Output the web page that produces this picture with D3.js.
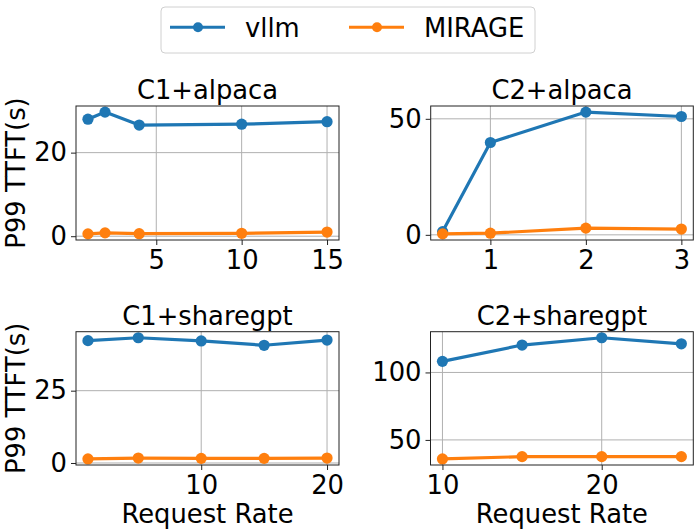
<!DOCTYPE html>
<html>
<head>
<meta charset="utf-8">
<script src="https://cdn.jsdelivr.net/npm/d3@7"></script>
<style>
  body { margin: 0; background: #fff; }
  svg { font-family: "DejaVu Sans", sans-serif; }
</style>
</head>
<body>
<svg id="chart" width="700" height="531"></svg>
<script>
// ---------- data ----------
const seriesNames = ["vllm", "MIRAGE"];
const panelTitles = ["C1+alpaca", "C2+alpaca", "C1+sharegpt", "C2+sharegpt"];

const xC1alpaca = [1, 2, 4, 10, 15];
const vllmC1alpaca = [28.0, 29.7, 26.6, 26.8, 27.4];
const mirageC1alpaca = [0.55, 0.8, 0.6, 0.7, 1.0];

const xC2alpaca = [0.5, 1, 2, 3];
const vllmC2alpaca = [1.4, 39.8, 52.9, 51.0];
const mirageC2alpaca = [0.4, 0.7, 2.9, 2.5];

const xC1sharegpt = [1, 5, 10, 15, 20];
const vllmC1sharegpt = [42.3, 43.3, 42.2, 40.7, 42.5];
const mirageC1sharegpt = [1.4, 1.7, 1.6, 1.6, 1.7];

const xC2sharegpt = [10, 15, 20, 25];
const vllmC2sharegpt = [108.2, 120.3, 125.7, 121.2];
const mirageC2sharegpt = [35.9, 37.6, 37.6, 37.6];

const xTicksC1alpaca = [5, 10, 15];
const yTicksC1alpaca = [0, 20];
const xTicksC2alpaca = [1, 2, 3];
const yTicksC2alpaca = [0, 50];
const xTicksC1sharegpt = [10, 20];
const yTicksC1sharegpt = [0, 25];
const xTicksC2sharegpt = [10, 20];
const yTicksC2sharegpt = [50, 100];

const yLabel = "P99 TTFT(s)";
const xLabel = "Request Rate";

// ---------- style / layout ----------
const colors = ["#1f77b4", "#ff7f0e"];
const FS = 25.8;
const panels = [
  { title: panelTitles[0], x: xC1alpaca, ys: [vllmC1alpaca, mirageC1alpaca], xt: xTicksC1alpaca, yt: yTicksC1alpaca,
    box: { l: 76, r: 339, t: 106, b: 240 }, ylab: true, xlab: false },
  { title: panelTitles[1], x: xC2alpaca, ys: [vllmC2alpaca, mirageC2alpaca], xt: xTicksC2alpaca, yt: yTicksC2alpaca,
    box: { l: 430.7, r: 693.3, t: 106, b: 240 }, ylab: false, xlab: false },
  { title: panelTitles[2], x: xC1sharegpt, ys: [vllmC1sharegpt, mirageC1sharegpt], xt: xTicksC1sharegpt, yt: yTicksC1sharegpt,
    box: { l: 76, r: 339, t: 331.7, b: 465 }, ylab: true, xlab: true },
  { title: panelTitles[3], x: xC2sharegpt, ys: [vllmC2sharegpt, mirageC2sharegpt], xt: xTicksC2sharegpt, yt: yTicksC2sharegpt,
    box: { l: 430.5, r: 693.3, t: 331.7, b: 465 }, ylab: false, xlab: true }
];

const svg = d3.select("#chart");

function padded(ext) {
  const m = (ext[1] - ext[0]) * 0.05;
  return [ext[0] - m, ext[1] + m];
}

panels.forEach(p => {
  const B = p.box;
  const allY = p.ys.flat();
  const xs = d3.scaleLinear().domain(padded(d3.extent(p.x))).range([B.l, B.r]);
  const ys = d3.scaleLinear().domain(padded(d3.extent(allY))).range([B.b, B.t]);
  const g = svg.append("g");

  // grid
  g.selectAll(".gx").data(p.xt).enter().append("line")
    .attr("x1", d => xs(d)).attr("x2", d => xs(d)).attr("y1", B.t).attr("y2", B.b)
    .attr("stroke", "#b0b0b0").attr("stroke-width", 1);
  g.selectAll(".gy").data(p.yt).enter().append("line")
    .attr("y1", d => ys(d)).attr("y2", d => ys(d)).attr("x1", B.l).attr("x2", B.r)
    .attr("stroke", "#b0b0b0").attr("stroke-width", 1);

  // axes
  const xAxis = d3.axisBottom(xs).tickValues(p.xt).tickSize(5).tickPadding(5).tickFormat(d3.format("d"));
  const yAxis = d3.axisLeft(ys).tickValues(p.yt).tickSize(5).tickPadding(4).tickFormat(d3.format("d"));
  const gx = g.append("g").attr("transform", `translate(0,${B.b})`).call(xAxis);
  const gy = g.append("g").attr("transform", `translate(${B.l},0)`).call(yAxis);
  [gx, gy].forEach(a => {
    a.select(".domain").remove();
    a.selectAll("line").attr("stroke", "#222").attr("stroke-width", 1);
    a.selectAll("text").attr("font-size", FS).attr("fill", "#000").attr("font-family", "DejaVu Sans");
  });
  gx.selectAll("text").attr("dy", null).attr("y", 28.5).attr("dominant-baseline", "auto");

  // lines & markers
  p.ys.forEach((vals, si) => {
    const pts = p.x.map((xv, i) => [xv, vals[i]]);
    g.append("path").datum(pts)
      .attr("d", d3.line().x(d => xs(d[0])).y(d => ys(d[1])))
      .attr("fill", "none").attr("stroke", colors[si]).attr("stroke-width", 3.2)
      .attr("stroke-linejoin", "round").attr("stroke-linecap", "round");
    g.selectAll(null).data(pts).enter().append("circle")
      .attr("cx", d => xs(d[0])).attr("cy", d => ys(d[1])).attr("r", 5.6)
      .attr("fill", colors[si]);
  });

  // frame
  g.append("rect").attr("x", B.l).attr("y", B.t).attr("width", B.r - B.l).attr("height", B.b - B.t)
    .attr("fill", "none").attr("stroke", "#222").attr("stroke-width", 1);

  // title
  g.append("text").attr("x", (B.l + B.r) / 2).attr("y", B.t - 7)
    .attr("text-anchor", "middle").attr("font-size", FS).text(p.title);

  if (p.ylab) {
    g.append("text")
      .attr("transform", `translate(24.5,${(B.t + B.b) / 2}) rotate(-90)`)
      .attr("text-anchor", "middle").attr("font-size", FS).text(yLabel);
  }
  if (p.xlab) {
    g.append("text").attr("x", (B.l + B.r) / 2).attr("y", B.b + 58)
      .attr("text-anchor", "middle").attr("font-size", FS).text(xLabel);
  }
});

// legend
const lg = svg.append("g");
lg.append("rect").attr("x", 161).attr("y", 7).attr("width", 374).attr("height", 46).attr("rx", 4)
  .attr("fill", "#fff").attr("stroke", "#d0d0d0").attr("stroke-width", 1);
const legX = [170, 349];
seriesNames.forEach((name, i) => {
  const x0 = legX[i];
  lg.append("line").attr("x1", x0).attr("x2", x0 + 55).attr("y1", 27.3).attr("y2", 27.3)
    .attr("stroke", colors[i]).attr("stroke-width", 3);
  lg.append("circle").attr("cx", x0 + 28).attr("cy", 27.3).attr("r", 5).attr("fill", colors[i]);
  lg.append("text").attr("x", x0 + 75).attr("y", 36.5).attr("font-size", FS).text(name);
});
</script>
</body>
</html>
